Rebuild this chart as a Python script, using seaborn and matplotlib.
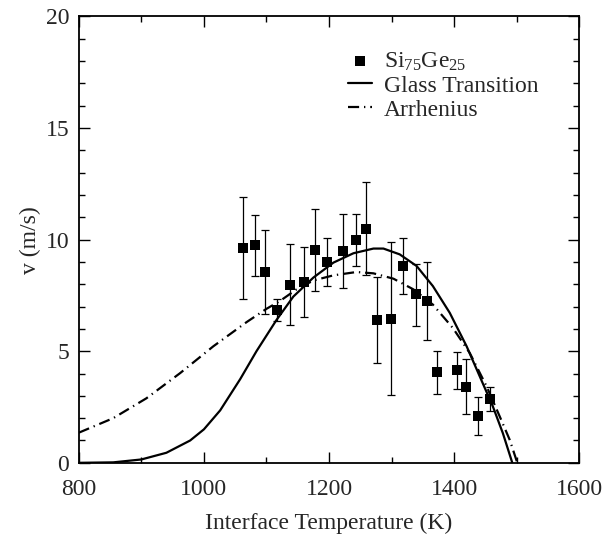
import numpy as np
import pandas as pd
import seaborn as sns
import matplotlib.pyplot as plt
from matplotlib.ticker import MultipleLocator

# Measured regrowth velocity, Si75Ge25
temp_k = [1062, 1082, 1097, 1117, 1137, 1160, 1178, 1197, 1222, 1243, 1259,
          1276, 1299, 1318, 1339, 1356, 1372, 1404, 1419, 1438, 1457]
vel = [9.62, 9.76, 8.56, 6.85, 7.97, 8.08, 9.55, 8.99, 9.50, 10.00, 10.49,
       6.38, 6.46, 8.83, 7.55, 7.27, 4.05, 4.14, 3.39, 2.09, 2.88]
vel_hi = [11.92, 11.11, 10.45, 7.36, 9.80, 9.65, 11.38, 10.06, 11.14, 11.14, 12.60,
          8.33, 9.88, 10.09, 8.93, 9.02, 5.01, 4.97, 4.65, 2.97, 3.39]
vel_lo = [7.36, 8.38, 6.65, 6.34, 6.17, 6.53, 7.70, 7.93, 7.85, 8.83, 8.41,
          4.47, 3.05, 7.58, 6.13, 5.49, 3.08, 3.32, 2.18, 1.23, 2.31]

# Glass transition model curve
glass_t = [800, 855, 900, 940, 978, 1000, 1026, 1058, 1084, 1116, 1143, 1175,
           1207, 1239, 1271, 1287, 1313, 1340, 1366, 1393, 1420, 1441, 1462,
           1478, 1493]
glass_v = [0.0, 0.02, 0.15, 0.45, 1.0, 1.5, 2.35, 3.75, 5.0, 6.4, 7.45, 8.3,
           8.97, 9.39, 9.6, 9.6, 9.34, 8.82, 7.92, 6.72, 5.22, 3.87, 2.52,
           1.32, 0.0]

# Arrhenius model curve
arr_t = [800, 855, 908, 962, 1015, 1068, 1100, 1121, 1148, 1175, 1207, 1244,
         1271, 1303, 1335, 1366, 1398, 1425, 1452, 1473, 1489, 1501]
arr_v = [1.35, 2.0, 2.89, 4.02, 5.22, 6.3, 6.9, 7.24, 7.77, 8.17, 8.4, 8.55,
         8.49, 8.25, 7.77, 7.09, 6.04, 4.92, 3.42, 2.07, 1.02, 0.0]

sns.set_style("ticks")
plt.rcParams['font.family'] = ['Liberation Serif', 'DejaVu Serif']
plt.rcParams['mathtext.fontset'] = 'custom'
plt.rcParams['mathtext.rm'] = 'Liberation Serif'
plt.rcParams['mathtext.it'] = 'Liberation Serif'

fig = plt.figure(figsize=(6.11, 5.49), dpi=100)
ax = fig.add_axes([0.129, 0.157, 0.819, 0.813])

pts = pd.DataFrame({'T': temp_k, 'v': vel})
yerr = [np.array(vel) - np.array(vel_lo), np.array(vel_hi) - np.array(vel)]
ax.errorbar(temp_k, vel, yerr=yerr, fmt='none', ecolor='black',
            elinewidth=0.9, capsize=3, capthick=0.9, zorder=2)
sns.scatterplot(data=pts, x='T', y='v', marker='s', s=42, color='black',
                edgecolor='black', linewidth=0, ax=ax, zorder=3,
                label=r'Si$_{\mathrm{75}}$Ge$_{\mathrm{25}}$')

sns.lineplot(x=glass_t, y=glass_v, color='black', linewidth=1.6, ax=ax,
             label='Glass Transition', sort=False)
sns.lineplot(x=arr_t, y=arr_v, color='black', linewidth=1.6, ax=ax,
             label='Arrhenius', sort=False, dashes=False)
ax.lines[-1].set_dashes([5, 2.2, 0.6, 2.2])

ax.set_xlim(800, 1600)
ax.set_ylim(0, 20)
ax.xaxis.set_major_locator(MultipleLocator(200))
ax.xaxis.set_minor_locator(MultipleLocator(100))
ax.yaxis.set_major_locator(MultipleLocator(5))
ax.yaxis.set_minor_locator(MultipleLocator(1))
ax.tick_params(which='both', direction='in', top=True, right=True,
               labelsize=17, color='black', width=1)
ax.tick_params(which='major', length=8)
ax.tick_params(which='minor', length=4)
ax.tick_params(axis='x', which='major', pad=12)
ax.tick_params(axis='y', which='major', pad=7)
for s in ax.spines.values():
    s.set_linewidth(1.3)
    s.set_color('black')

ax.set_xlabel('Interface Temperature (K)', fontsize=17, labelpad=9)
ax.set_ylabel('v (m/s)', fontsize=17, labelpad=3)

leg = ax.legend(loc='upper left', bbox_to_anchor=(0.52, 0.945), frameon=False,
                fontsize=17, handlelength=1.0, handletextpad=0.5,
                labelspacing=0.1, borderaxespad=0)

fig.savefig('out.png', dpi=100)
